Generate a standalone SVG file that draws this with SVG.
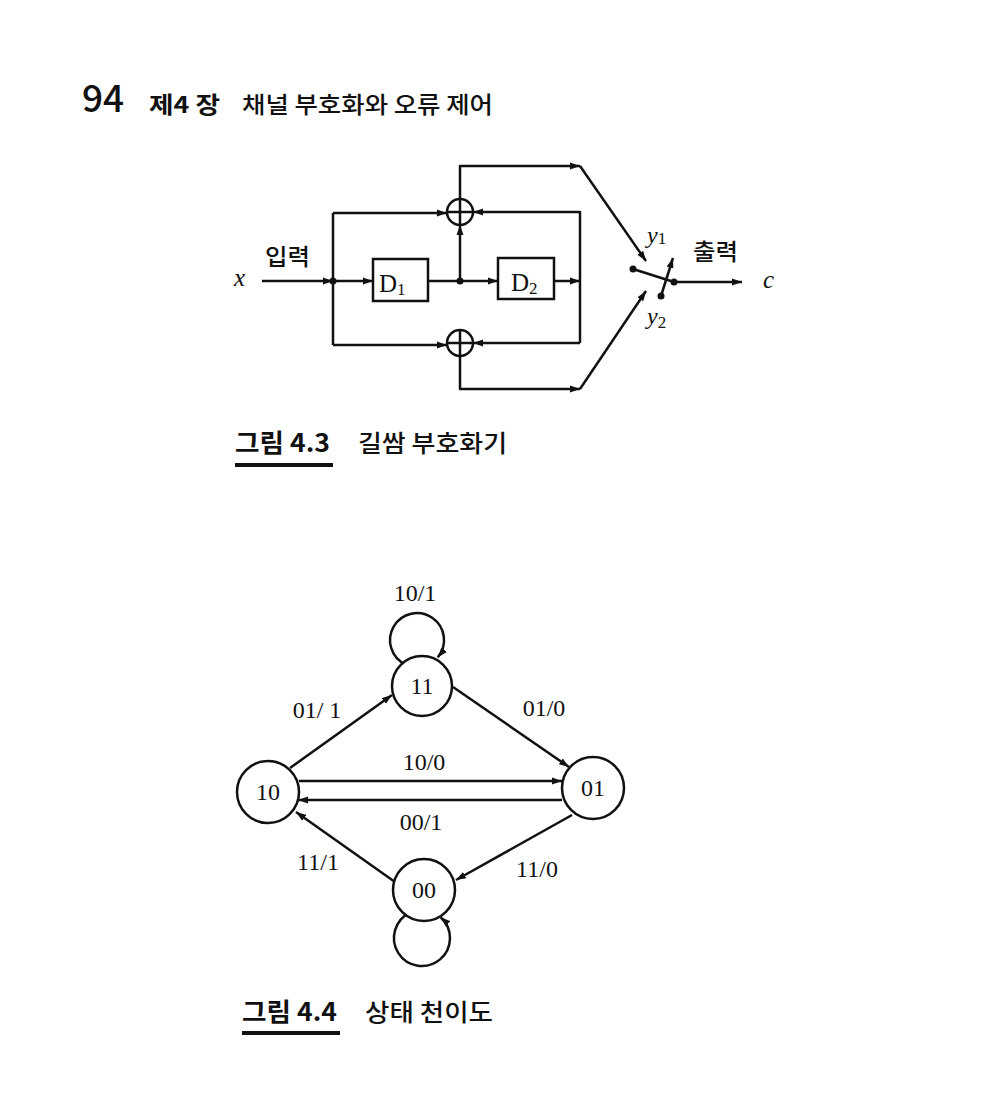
<svg xmlns="http://www.w3.org/2000/svg" width="1003" height="1093" viewBox="0 0 1003 1093">
<style>
.ln{fill:none;stroke:#111;stroke-width:2.5;stroke-linejoin:round}
.ar{marker-end:url(#ah)}
.dot{fill:#111}
.box{fill:#fff;stroke:#111;stroke-width:2.5}
.node{fill:#fff;stroke:#111;stroke-width:2.5}
.ko{font-family:"Noto Sans CJK KR","Noto Sans",sans-serif;fill:#111;font-weight:500}
.kb{font-weight:700}
.tm{font-family:"Liberation Serif","Times New Roman",serif;fill:#111}
.it{font-style:italic}
</style>
<defs>
<marker id="ah" markerUnits="userSpaceOnUse" markerWidth="11" markerHeight="8" refX="10" refY="4" orient="auto">
<path d="M0,0.5 L10,4 L0,7.5 z" fill="#111"/>
</marker>
</defs>
<rect width="1003" height="1093" fill="#fff"/>

<g id="header">
<text class="ko" x="82" y="112" font-size="37">94</text>
<text class="ko kb" x="149" y="113" font-size="23" textLength="71" lengthAdjust="spacingAndGlyphs">제4 장</text>
<text class="ko" x="242" y="113" font-size="23" textLength="251" lengthAdjust="spacingAndGlyphs">채널 부호화와 오류 제어</text>
</g>

<g id="encoder">
<g id="connectors-encoder">
<path class="ln ar" d="M262,281 H333"/>
<path class="ln ar" d="M333,281 H373"/>
<path class="ln" d="M333,213 V345"/>
<path class="ln ar" d="M333,213 H447"/>
<path class="ln ar" d="M333,345 H447"/>
<path class="ln" d="M428,281 H460"/>
<path class="ln ar" d="M460,281 H498"/>
<path class="ln ar" d="M460,281 V225"/>
<path class="ln ar" d="M460,199 V166 H580"/>
<path class="ln ar" d="M554,281 H580"/>
<path class="ln" d="M580,211 V343"/>
<path class="ln ar" d="M580,212 H473"/>
<path class="ln ar" d="M580,343 H473"/>
<path class="ln ar" d="M460,356 V389 H580"/>
<path class="ln ar" d="M580,166 L646,261"/>
<path class="ln ar" d="M580,389 L646,291"/>
<path class="ln" d="M633,269 L674,282"/>
<path class="ln ar" d="M661,296 L673,258"/>
<path class="ln ar" d="M674,282 H742"/>
<circle class="dot" cx="333" cy="281" r="3.5"/>
<circle class="dot" cx="460" cy="281" r="3.5"/>
<circle class="dot" cx="633" cy="269" r="3.5"/>
<circle class="dot" cx="674" cy="282" r="3.5"/>
<circle class="dot" cx="661" cy="296" r="3.5"/>
</g>
<g id="xor-top">
<circle class="node" cx="460" cy="212" r="13"/>
<path class="ln" d="M447,212 H473 M460,199 V225"/>
</g>
<g id="xor-bottom">
<circle class="node" cx="460" cy="343" r="13"/>
<path class="ln" d="M447,343 H473 M460,330 V356"/>
</g>
<g id="d1">
<rect class="box" x="373" y="259" width="55" height="42"/>
<text class="tm" x="379" y="292" font-size="25">D<tspan font-size="17" dy="3">1</tspan></text>
</g>
<g id="d2">
<rect class="box" x="498" y="258" width="56" height="41"/>
<text class="tm" x="511" y="291" font-size="25">D<tspan font-size="17" dy="3">2</tspan></text>
</g>
<text class="tm it" x="234" y="286" font-size="25">x</text>
<text class="ko" x="265" y="265" font-size="23" textLength="45" lengthAdjust="spacingAndGlyphs">입력</text>
<text class="tm it" x="647" y="243" font-size="24">y<tspan font-size="17" font-style="normal" dy="1">1</tspan></text>
<text class="tm it" x="647" y="324" font-size="24">y<tspan font-size="17" font-style="normal" dy="4">2</tspan></text>
<text class="ko" x="693" y="260" font-size="23" textLength="45" lengthAdjust="spacingAndGlyphs">출력</text>
<text class="tm it" x="763" y="288" font-size="25">c</text>
</g>

<g id="caption1">
<text class="ko kb" x="235" y="452" font-size="25" textLength="95" lengthAdjust="spacingAndGlyphs">그림 4.3</text>
<rect x="235" y="463" width="98" height="4" fill="#111"/>
<text class="ko" x="358" y="452" font-size="24" textLength="149" lengthAdjust="spacingAndGlyphs">길쌈 부호화기</text>
</g>

<g id="connectors">
<path class="ln ar" d="M405.6,664.5 A27,27 0 1 1 437.7,657.4"/>
<path class="ln ar" d="M410.2,912.6 A28,28 0 1 0 440.7,917.2"/>
<path class="ln ar" d="M290,768 L392,695"/>
<path class="ln ar" d="M453,687 L569,767"/>
<path class="ln ar" d="M299,781 H562"/>
<path class="ln ar" d="M562,800 H298"/>
<path class="ln ar" d="M395,882 L296,812"/>
<path class="ln ar" d="M572,815 L456,880"/>
</g>

<g id="node-11">
<circle class="node" cx="422" cy="686" r="30"/>
<text class="tm" x="422" y="694" font-size="24" text-anchor="middle">11</text>
</g>
<g id="node-10">
<circle class="node" cx="268" cy="792" r="31"/>
<text class="tm" x="268" y="800" font-size="24" text-anchor="middle">10</text>
</g>
<g id="node-01">
<circle class="node" cx="593" cy="788" r="31"/>
<text class="tm" x="593" y="796" font-size="24" text-anchor="middle">01</text>
</g>
<g id="node-00">
<circle class="node" cx="424" cy="890" r="31"/>
<text class="tm" x="424" y="898" font-size="24" text-anchor="middle">00</text>
</g>

<g id="edge-labels">
<text class="tm" x="415" y="601" font-size="24" text-anchor="middle">10/1</text>
<text class="tm" x="317" y="718" font-size="24" text-anchor="middle">01/ 1</text>
<text class="tm" x="544" y="716" font-size="24" text-anchor="middle">01/0</text>
<text class="tm" x="424" y="770" font-size="24" text-anchor="middle">10/0</text>
<text class="tm" x="421" y="830" font-size="24" text-anchor="middle">00/1</text>
<text class="tm" x="318" y="870" font-size="24" text-anchor="middle">11/1</text>
<text class="tm" x="537" y="877" font-size="24" text-anchor="middle">11/0</text>
</g>

<g id="caption2">
<text class="ko kb" x="242" y="1021" font-size="25" textLength="95" lengthAdjust="spacingAndGlyphs">그림 4.4</text>
<rect x="242" y="1031" width="98" height="4" fill="#111"/>
<text class="ko" x="365" y="1021" font-size="24" textLength="128" lengthAdjust="spacingAndGlyphs">상태 천이도</text>
</g>
</svg>
